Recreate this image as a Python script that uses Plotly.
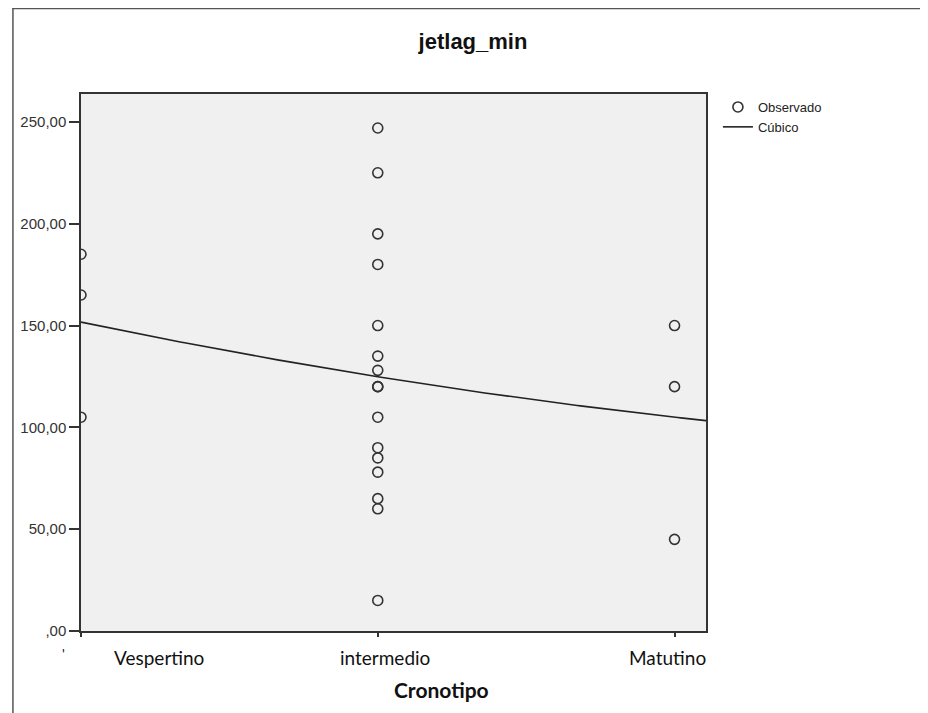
import numpy as np
import plotly.graph_objects as go

# ---- data ----
categories = ["Vespertino", "intermedio", "Matutino"]
category_codes = [1, 2, 3]
vespertino_vals = [185, 165, 105]
intermedio_vals = [247, 225, 195, 180, 150, 135, 128, 120, 120, 105, 90, 85, 78, 65, 60, 15]
matutino_vals = [150, 120, 45]
y_tick_vals = [0, 50, 100, 150, 200, 250]
y_tick_text = [",00", "50,00", "100,00", "150,00", "200,00", "250,00"]

xs = ([category_codes[0]] * len(vespertino_vals)
      + [category_codes[1]] * len(intermedio_vals)
      + [category_codes[2]] * len(matutino_vals))
ys = vespertino_vals + intermedio_vals + matutino_vals

x_range = [1.0, 3.106]
y_range = [0, 263.7]

# cubic fit (only 3 distinct x -> effectively quadratic through group means)
coef = np.polyfit(np.array(xs, float), np.array(ys, float), 2)
xc = np.linspace(x_range[0], x_range[1], 200)
yc = np.polyval(coef, xc)

fig = go.Figure()
fig.add_trace(go.Scatter(
    x=xs, y=ys, mode="markers", name="Observado",
    marker=dict(symbol="circle-open", size=10, color="#333333", line=dict(width=1.6, color="#333333")),
))
fig.add_trace(go.Scatter(
    x=xc, y=yc, mode="lines", name="Cúbico",
    line=dict(color="#222222", width=1.6),
))

# page offset (body margin) compensation: figure coords = screen coords - 8
OFF = 8
W, H = 928 - OFF, 713 - OFF
L, R, T, B = 77 - OFF, 706 - OFF, 94 - OFF, 631 - OFF
pw, ph = R - L, B - T

def px(x):
    return (x - OFF - L) / pw

def py(y):
    return (B - (y - OFF)) / ph

label_font = dict(family="Lato, Open Sans, sans-serif", size=19, color="#111111")
label_x = [156, 383, 667]   # screen px centres of category labels
label_y = 657

annotations = [
    dict(text=c, xref="paper", yref="paper", x=px(lx), y=py(label_y),
         xanchor="center", yanchor="middle", showarrow=False, font=label_font)
    for c, lx in zip(categories, label_x)
]
annotations += [
    dict(text="'", xref="paper", yref="paper", x=px(59), y=py(653),
         xanchor="center", yanchor="middle", showarrow=False,
         font=dict(family="Lato, Open Sans, sans-serif", size=14, color="#111111")),
    dict(text="<b>Cronotipo</b>", xref="paper", yref="paper", x=px(440), y=py(689),
         xanchor="center", yanchor="middle", showarrow=False,
         font=dict(family="Lato, Open Sans, sans-serif", size=21, color="#111111")),
]

fig.update_layout(
    width=W, height=H,
    margin=dict(l=L, r=W - R, t=T, b=H - B),
    paper_bgcolor="white",
    plot_bgcolor="#F0F0F0",
    showlegend=True,
    legend=dict(
        x=px(718), y=py(92), xanchor="left", yanchor="top",
        bgcolor="rgba(0,0,0,0)", borderwidth=0,
        font=dict(family="Liberation Sans, Arial, sans-serif", size=13, color="#222222"),
        tracegroupgap=0,
    ),
    title=dict(
        text="<b>jetlag_min</b>", xref="container", x=(473 - OFF) / W, xanchor="center",
        yref="container", y=1 - (41 - OFF) / H, yanchor="middle",
        font=dict(family="Liberation Sans, Arial, sans-serif", size=22, color="#111111"),
    ),
    xaxis=dict(
        range=x_range, showgrid=False, zeroline=False,
        tickmode="array", tickvals=category_codes, ticktext=["", "", ""],
        ticks="outside", ticklen=4, tickcolor="#333333", tickwidth=1.5,
        showline=True, linecolor="#333333", linewidth=1.5, mirror=True,
    ),
    yaxis=dict(
        range=y_range, showgrid=False, zeroline=False,
        tickmode="array", tickvals=y_tick_vals, ticktext=y_tick_text,
        ticks="outside", ticklen=10, tickcolor="#333333", tickwidth=1.5,
        tickfont=dict(family="Liberation Sans, Arial, sans-serif", size=15, color="#333333"),
        showline=True, linecolor="#333333", linewidth=1.5, mirror=True,
    ),
    annotations=annotations,
    shapes=[
        dict(type="line", xref="paper", yref="paper", x0=px(8), x1=px(940), y0=py(8.5), y1=py(8.5),
             line=dict(color="#555555", width=1.5)),
        dict(type="line", xref="paper", yref="paper", x0=px(8.5), x1=px(8.5), y0=py(8), y1=py(720),
             line=dict(color="#555555", width=1.5)),
    ],
)

fig.write_html("out.html")
